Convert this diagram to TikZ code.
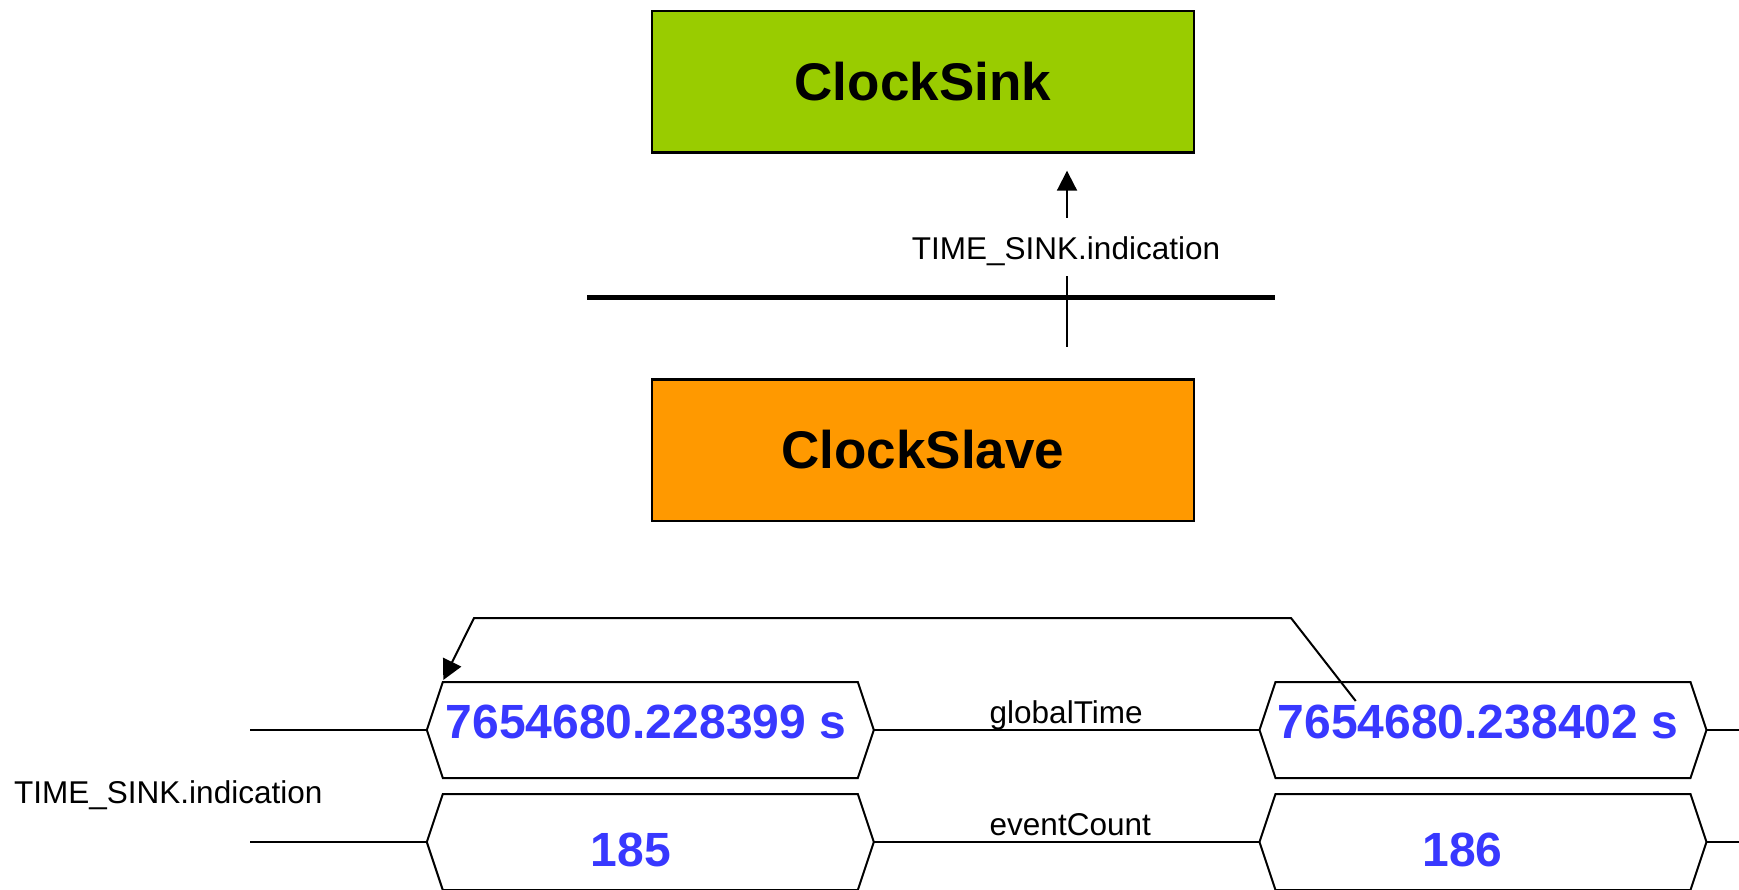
\documentclass[tikz,border=0pt]{standalone}
\usepackage{fontspec}
\setmainfont{Liberation Sans}
\usetikzlibrary{arrows.meta}
\definecolor{sinkgreen}{RGB}{153,204,0}
\definecolor{slaveorange}{RGB}{255,153,0}
\definecolor{valblue}{RGB}{56,56,255}
\begin{document}
\begin{tikzpicture}[x=1pt,y=-1pt,
  box/.style={draw=black, line width=2.5pt, minimum width=542pt, minimum height=141.5pt,
              inner sep=0pt, font=\fontsize{53}{60}\selectfont\bfseries},
  hexslot/.style={draw=none, minimum width=447pt, minimum height=96pt, inner sep=0pt, outer sep=0pt},
  hex/.style={draw=black, line width=2pt, line join=miter},
  wire/.style={draw=black, line width=2pt},
  bus/.style={draw=black, line width=5.5pt},
  arr/.style={draw=black, line width=2pt, -{Triangle[length=20pt,width=20pt]}},
  lbl/.style={inner sep=0pt, font=\fontsize{31.5}{36}\selectfont},
  val/.style={inner sep=0pt, text=valblue, font=\fontsize{48}{56}\selectfont\bfseries}]
\useasboundingbox (0,0) rectangle (1739,890);
\fill[white] (0,0) rectangle (1739,890);

% boxes
\node[box, fill=sinkgreen] (sink) at (922.8,82) {ClockSink};
\node[box, fill=slaveorange] (slave) at (922.8,450) {ClockSlave};

% bus
\coordinate (busL) at (587,297.7);
\coordinate (busR) at (1275,297.7);
\draw[bus] (busL) -- (busR);

% service primitive arrow
\coordinate (s0) at (1067,346.7);
\coordinate (s1) at (1067,276);
\coordinate (a0) at (1067,217.7);
\coordinate (a1) at (1067,170.7);
\draw[wire] (s0) -- (s1);
\draw[arr] (a0) -- (a1);
\node[lbl, anchor=base] (tsup) at (1066,259.3) {TIME\_SINK.indication};

% timing diagram slots
\node[hexslot] (v1) at (650.3,730) {};
\node[hexslot] (v2) at (650.3,842) {};
\node[hexslot] (v3) at (1483,730) {};
\node[hexslot] (v4) at (1483,842) {};

\foreach \h in {v1,v2,v3,v4}{
  \draw[hex] (\h.west) -- ([xshift=16pt]\h.north west) -- ([xshift=-16pt]\h.north east)
    -- (\h.east) -- ([xshift=-16pt]\h.south east) -- ([xshift=16pt]\h.south west) -- cycle;
}

\coordinate (L1) at (250,730);
\coordinate (L2) at (250,842);
\coordinate (R1) at (1739,730);
\coordinate (R2) at (1739,842);
\draw[wire] (L1) -- (v1.west);
\draw[wire] (v1.east) -- (v3.west);
\draw[wire] (v3.east) -- (R1);
\draw[wire] (L2) -- (v2.west);
\draw[wire] (v2.east) -- (v4.west);
\draw[wire] (v4.east) -- (R2);

% values
\node[val, anchor=base] (t1) at (646,738.3) {7654680.228399 s};
\node[val, anchor=base] (t2) at (1478,738.3) {7654680.238402 s};
\node[val, anchor=base] (c1) at (631,866.7) {185};
\node[val, anchor=base] (c2) at (1462.5,866.7) {186};

% labels
\node[lbl, anchor=base west] (gt) at (989.5,723.5) {globalTime};
\node[lbl, anchor=base west] (ec) at (989.5,835) {eventCount};
\node[lbl, anchor=base west] (tsl) at (14,803.3) {TIME\_SINK.indication};

% feedback arrow
\coordinate (f0) at (1355.7,701);
\coordinate (f1) at (1291,618);
\coordinate (f2) at (474,618);
\coordinate (f3) at (443.3,680);
\draw[arr, line join=miter] (f0) -- (f1) -- (f2) -- (f3);
\end{tikzpicture}
\end{document}
